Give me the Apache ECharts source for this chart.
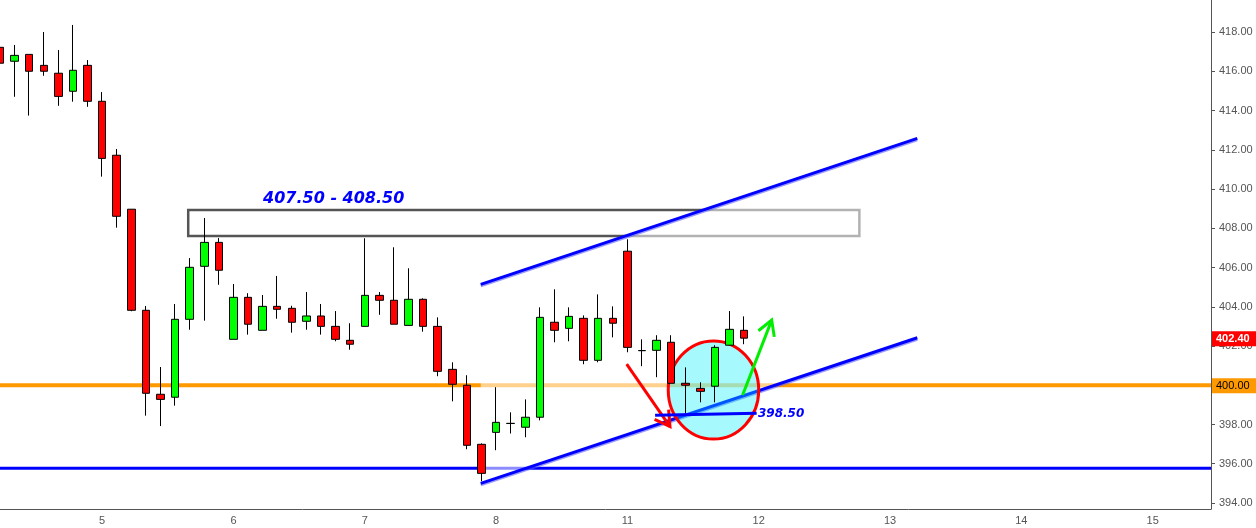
<!DOCTYPE html>
<html>
<head>
<meta charset="utf-8">
<script src="https://cdn.jsdelivr.net/npm/echarts@6.0.0/dist/echarts.min.js"></script>
<style>
html,body{margin:0;padding:0;background:#fff;}
#chart{width:1256px;height:528px;}
</style>
</head>
<body>
<div id="chart"></div>
<script>
// ---------- data ----------
const slotCount = 84;                       // hourly slots shown on the x axis
const dayLabels = ['5','6','7','8','11','12','13','14','15'];
const dayStartIndex = [7,16,25,34,43,52,61,70,79];
const priceTicks = [394,396,398,400,402,404,406,408,410,412,414,416,418];

const candleOpen  = [417.22,416.51,416.86,416.30,415.90,414.98,416.30,414.47,411.72,408.97,
                     403.82,399.54,399.39,403.36,406.06,407.28,402.34,404.48,402.80,404.02,
                     403.92,403.26,403.53,403.00,402.29,403.00,404.58,404.33,403.05,404.38,
                     403.00,400.81,400.00,396.99,397.60,398.05,397.86,398.37,403.21,402.90,
                     403.41,401.27,403.41,406.83,401.76,401.78,402.19,400.10,399.84,399.95,
                     402.04,402.80];
const candleClose = [416.41,416.81,416.00,416.00,414.72,416.05,414.47,411.56,408.61,403.82,
                     399.59,399.28,403.36,406.01,407.28,405.86,404.48,403.11,404.02,403.87,
                     403.21,403.53,403.00,402.34,402.09,404.58,404.33,403.11,404.38,403.00,
                     400.71,400.05,396.94,395.51,398.11,398.06,398.37,403.46,402.80,403.51,
                     401.27,403.41,403.16,401.93,401.77,402.29,400.10,400.00,399.69,401.93,
                     402.85,402.40];
const candleLow   = [416.18,414.70,413.74,415.77,414.24,414.45,414.19,410.63,408.03,403.77,
                     398.45,397.92,398.96,402.83,403.29,405.12,402.34,402.58,402.80,403.39,
                     402.68,402.83,402.58,402.24,401.81,403.00,403.59,403.11,403.05,402.73,
                     400.46,399.18,396.74,395.11,396.69,397.54,397.35,398.21,402.19,402.24,
                     401.07,401.17,402.44,401.68,400.97,400.41,400.10,398.57,399.13,399.13,
                     402.04,402.09];
const candleHigh  = [417.49,417.34,416.86,418.00,417.08,418.36,416.57,414.94,412.04,408.97,
                     404.04,400.93,404.14,406.48,408.52,407.50,405.16,404.69,404.60,405.57,
                     404.05,404.75,404.14,403.78,403.16,407.49,404.75,407.03,405.96,404.43,
                     403.46,401.17,400.51,397.04,399.90,398.62,399.28,403.97,404.89,403.97,
                     403.56,404.63,404.02,407.44,402.34,402.55,402.55,400.91,400.15,402.04,
                     403.78,403.51];

const lastPrice = 402.40;
const supportLevel = 400.00;
const lowLevel = 395.77;
const zoneBox = [12.9, 408.93, 58.9, 407.60];         // x1,y1,x2,y2
const zoneText = '407.50 - 408.50';
const zoneTextPos = [18.03, 409.49];
const channelUpper = [[32.95, 405.14], [62.87, 412.58]];
const channelLower = [[32.95, 395.00], [62.87, 402.42]];
const level3985 = [[44.9, 398.47], [51.86, 398.57]];
const level3985Text = '398.50';
const level3985TextPos = [51.95, 398.55];
const circleSpec = [48.9, 399.76, 3.10, 2.50];        // cx, cy, rx, ry
const arrowRed = [42.95, 401.08, 45.92, 397.89];
const arrowGreen = [50.90, 399.50, 52.89, 403.32];
const priceTags = [supportLevel, lastPrice];
const priceTagFill = ['#ff9900', '#ff0000'];
const priceTagText = ['#000000', '#ffffff'];

// ---------- build ----------
const categories = [];
for (let i = 0; i < slotCount; i++) {
  const k = dayStartIndex.indexOf(i);
  categories.push(k >= 0 ? dayLabels[k] : '');
}
const candleData = candleOpen.map((o, i) => [o, candleClose[i], candleLow[i], candleHigh[i]]);
const xMax = slotCount - 1;

function arrowRender(color) {
  return function (params, api) {
    const p1 = api.coord([api.value(0), api.value(1)]);
    const p2 = api.coord([api.value(2), api.value(3)]);
    const dx = p1[0] - p2[0], dy = p1[1] - p2[1];
    const len = Math.sqrt(dx * dx + dy * dy);
    const ux = dx / len, uy = dy / len;
    const hl = 17, a = Math.PI / 6;
    const c = Math.cos(a), s = Math.sin(a);
    const h1 = [p2[0] + hl * (ux * c - uy * s), p2[1] + hl * (ux * s + uy * c)];
    const h2 = [p2[0] + hl * (ux * c + uy * s), p2[1] + hl * (-ux * s + uy * c)];
    return {
      type: 'group',
      children: [
        { type: 'line', shape: { x1: p1[0], y1: p1[1], x2: p2[0], y2: p2[1] }, style: { stroke: color, lineWidth: 3 } },
        { type: 'polyline', shape: { points: [h1, p2, h2] }, style: { stroke: color, lineWidth: 3, fill: null } }
      ]
    };
  };
}

const chart = echarts.init(document.getElementById('chart'), null, { renderer: 'canvas' });
chart.setOption({
  animation: false,
  backgroundColor: '#ffffff',
  grid: { left: 0, right: 45, top: 0, bottom: 19, containLabel: false, outerBoundsMode: 'none' },
  xAxis: [
    {
      type: 'category', data: categories, boundaryGap: false,
      axisLine: { show: true, onZero: false, lineStyle: { color: '#555', width: 1 } },
      axisTick: { show: false },
      axisLabel: { interval: 0, color: '#555', fontSize: 11, fontFamily: 'Liberation Sans, Arial', margin: 6 },
      splitLine: { show: false }
    },
    { type: 'value', min: 0, max: xMax, show: false, splitLine: { show: false },
      axisLine: { onZero: false } }
  ],
  yAxis: {
    type: 'value', position: 'right', min: 393.694, max: 419.631, scale: true,
    axisLine: { show: true, onZero: false, lineStyle: { color: '#555', width: 1 } },
    axisTick: { show: true, length: 4, lineStyle: { color: '#555' }, customValues: priceTicks },
    axisLabel: { color: '#555', fontSize: 11, fontFamily: 'Liberation Sans, Arial', margin: 8,
                 customValues: priceTicks, formatter: v => Number(v).toFixed(2) },
    splitLine: { show: false }
  },
  series: [
    { type: 'line', xAxisIndex: 1, z: 1, silent: true, symbol: 'none',
      data: [[0, supportLevel], [xMax, supportLevel]], lineStyle: { color: '#ff9900', width: 4 } },
    { type: 'line', xAxisIndex: 1, z: 1, silent: true, symbol: 'none',
      data: [[0, lowLevel], [xMax, lowLevel]], lineStyle: { color: '#0000ff', width: 3 } },
    { type: 'custom', xAxisIndex: 1, z: 1, silent: true, data: [zoneBox], encode: { x: [0, 2], y: [1, 3] },
      renderItem: function (params, api) {
        const p1 = api.coord([api.value(0), api.value(1)]);
        const p2 = api.coord([api.value(2), api.value(3)]);
        return { type: 'rect',
          shape: { x: Math.min(p1[0], p2[0]), y: Math.min(p1[1], p2[1]), width: Math.abs(p2[0] - p1[0]), height: Math.abs(p2[1] - p1[1]) },
          style: { fill: null, stroke: '#555555', lineWidth: 2.5 } };
      } },
    { type: 'custom', xAxisIndex: 1, z: 2, silent: true, data: [[channelUpper[0][0], channelUpper[0][1]]],
      renderItem: function (params, api) {
        const pts = [channelUpper[0], channelUpper[1], channelLower[1], channelLower[0]].map(p => api.coord(p));
        return { type: 'polygon', shape: { points: pts }, style: { fill: 'rgba(255,255,255,0.55)' } };
      } },
    { type: 'line', xAxisIndex: 1, z: 3, silent: true, symbol: 'none', data: channelUpper,
      lineStyle: { color: '#0000ff', width: 3, shadowColor: 'rgba(90,90,255,0.6)', shadowOffsetY: 1.5, shadowBlur: 0 } },
    { type: 'line', xAxisIndex: 1, z: 3, silent: true, symbol: 'none', data: channelLower,
      lineStyle: { color: '#0000ff', width: 3, shadowColor: 'rgba(90,90,255,0.6)', shadowOffsetY: 1.5, shadowBlur: 0 } },
    { type: 'custom', xAxisIndex: 1, z: 4, silent: true, data: [circleSpec], encode: { x: 0, y: 1 },
      renderItem: function (params, api) {
        const c = api.coord([api.value(0), api.value(1)]);
        const sz = api.size([api.value(2), api.value(3)]);
        return { type: 'ellipse', shape: { cx: c[0], cy: c[1], rx: sz[0], ry: sz[1] },
          style: { fill: 'rgba(0,240,250,0.35)', stroke: '#ff0000', lineWidth: 3 } };
      } },
    { type: 'candlestick', xAxisIndex: 0, z: 5, data: candleData, barWidth: 8, silent: true,
      itemStyle: { color: '#00ff00', color0: '#ff0000', borderColor: '#000000', borderColor0: '#000000', borderWidth: 1 } },
    { type: 'line', xAxisIndex: 1, z: 6, silent: true, symbol: 'none', data: level3985,
      lineStyle: { color: '#0000ff', width: 3 } },
    { type: 'custom', xAxisIndex: 1, z: 6, silent: true, data: [arrowRed], encode: { x: [0, 2], y: [1, 3] },
      renderItem: arrowRender('#ff0000') },
    { type: 'custom', xAxisIndex: 1, z: 6, silent: true, data: [arrowGreen], encode: { x: [0, 2], y: [1, 3] },
      renderItem: arrowRender('#00ee00') },
    { type: 'custom', xAxisIndex: 1, z: 6, silent: true,
      data: [[zoneTextPos[0], zoneTextPos[1], 16], [level3985TextPos[0], level3985TextPos[1], 12]],
      encode: { x: 0, y: 1 },
      renderItem: function (params, api) {
        const p = api.coord([api.value(0), api.value(1)]);
        const txt = params.dataIndex === 0 ? zoneText : level3985Text;
        return { type: 'text', x: p[0], y: p[1],
          style: { text: txt, fill: '#0000ff', fontSize: api.value(2), fontWeight: 'bold', fontStyle: 'italic',
                   fontFamily: 'DejaVu Sans', align: 'left', verticalAlign: 'middle' } };
      } },
    { type: 'custom', xAxisIndex: 1, z: 20, silent: true, clip: false,
      data: priceTags.map(v => [xMax, v]), encode: { x: 0, y: 1 },
      renderItem: function (params, api) {
        const p = api.coord([api.value(0), api.value(1)]);
        const i = params.dataIndex;
        return { type: 'group', children: [
          { type: 'rect', shape: { x: p[0] + 1, y: p[1] - 7, width: 45, height: 15 }, style: { fill: priceTagFill[i] } },
          { type: 'text', x: p[0] + 5, y: p[1] + 0.5,
            style: { text: priceTags[i].toFixed(2), fill: priceTagText[i], fontSize: 11,
                     fontWeight: i === 1 ? 'bold' : 'normal', fontFamily: 'Liberation Sans, Arial',
                     align: 'left', verticalAlign: 'middle' } }
        ] };
      } }
  ]
});
</script>
</body>
</html>
